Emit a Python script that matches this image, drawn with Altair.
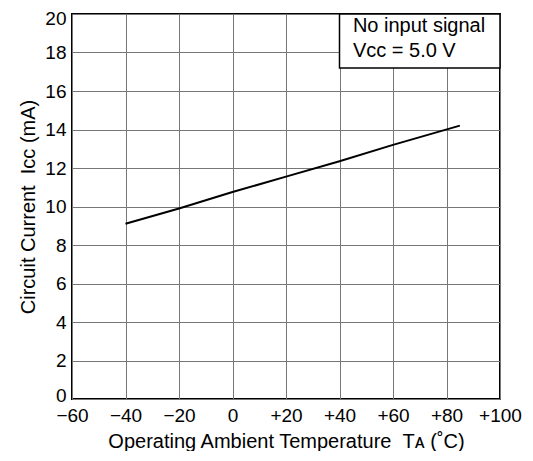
import altair as alt
import pandas as pd

# Curve: circuit current vs. ambient temperature
temps = [-40, -20, 0, 20, 40, 60, 85]
icc = [9.1, 9.9, 10.75, 11.55, 12.35, 13.2, 14.2]

# Annotation box
box_x = [40]
box_x2 = [100]
box_y = [17.2]
box_y2 = [20]
note_lines = ["No input signal", "Vᴄᴄ = 5.0 V"]
note_x = [45, 45]
note_y = [19.07, 17.78]

FONT = "Liberation Sans"
NB = "\u00a0"

df = pd.DataFrame({"x": temps, "y": icc})
box_df = pd.DataFrame({"x": box_x, "x2": box_x2, "y": box_y, "y2": box_y2})
note_df = pd.DataFrame({"label": note_lines, "x": note_x, "y": note_y})

xscale = alt.Scale(domain=[-60, 100], nice=False, zero=False)
yscale = alt.Scale(domain=[0, 20], nice=False)

label_expr = "datum.value > 0 ? '+' + datum.value : (datum.value < 0 ? '\u2212' + abs(datum.value) : '0')"

X = alt.X("x:Q", scale=xscale,
          axis=alt.Axis(values=list(range(-60, 101, 20)), labelExpr=label_expr,
                        title="Operating Ambient Temperature" + NB + NB + "Tᴀ" + NB + "(˚C)",
                        labelPadding=7, titlePadding=6))
Y = alt.Y("y:Q", scale=yscale,
          axis=alt.Axis(values=list(range(0, 21, 2)),
                        title="Circuit Current" + NB + NB + "Iᴄᴄ" + NB + "(mA)",
                        labelOffset={"condition": [{"test": "datum.value == 20", "value": 4},
                                                   {"test": "datum.value == 0", "value": -4}],
                                     "value": 0},
                        labelPadding=6, titlePadding=6))

line = alt.Chart(df).mark_line(color="black", strokeWidth=2, clip=True).encode(x=X, y=Y)

box = alt.Chart(box_df).mark_rect(fill="white", stroke="black", strokeWidth=1.5).encode(
    x=X, x2="x2:Q", y=Y, y2="y2:Q"
)

notes = alt.Chart(note_df).mark_text(align="left", baseline="alphabetic", font=FONT,
                                     fontSize=20, color="black").encode(
    x=X, y=Y, text="label:N"
)

chart = alt.layer(line, box, notes).properties(
    width=428, height=385,
    autosize=alt.AutoSizeParams(type="none"),
    padding={"left": 64, "top": 6, "right": 25, "bottom": 52},
    background="white",
).configure_view(stroke="black", strokeWidth=2).configure_axis(
    grid=True, ticks=False, domain=False, labelOverlap=False, labelFlush=False,
    labelFontSize=19, labelFont=FONT, labelColor="black", titleColor="black",
    titleFont=FONT, titleFontSize=20, titleFontWeight="normal",
    gridColor="#777", gridWidth=1, gridOpacity=1,
).configure_axisY(labelBaseline="middle")

chart.save("out.html", embed_options={"renderer": "svg", "actions": False})
